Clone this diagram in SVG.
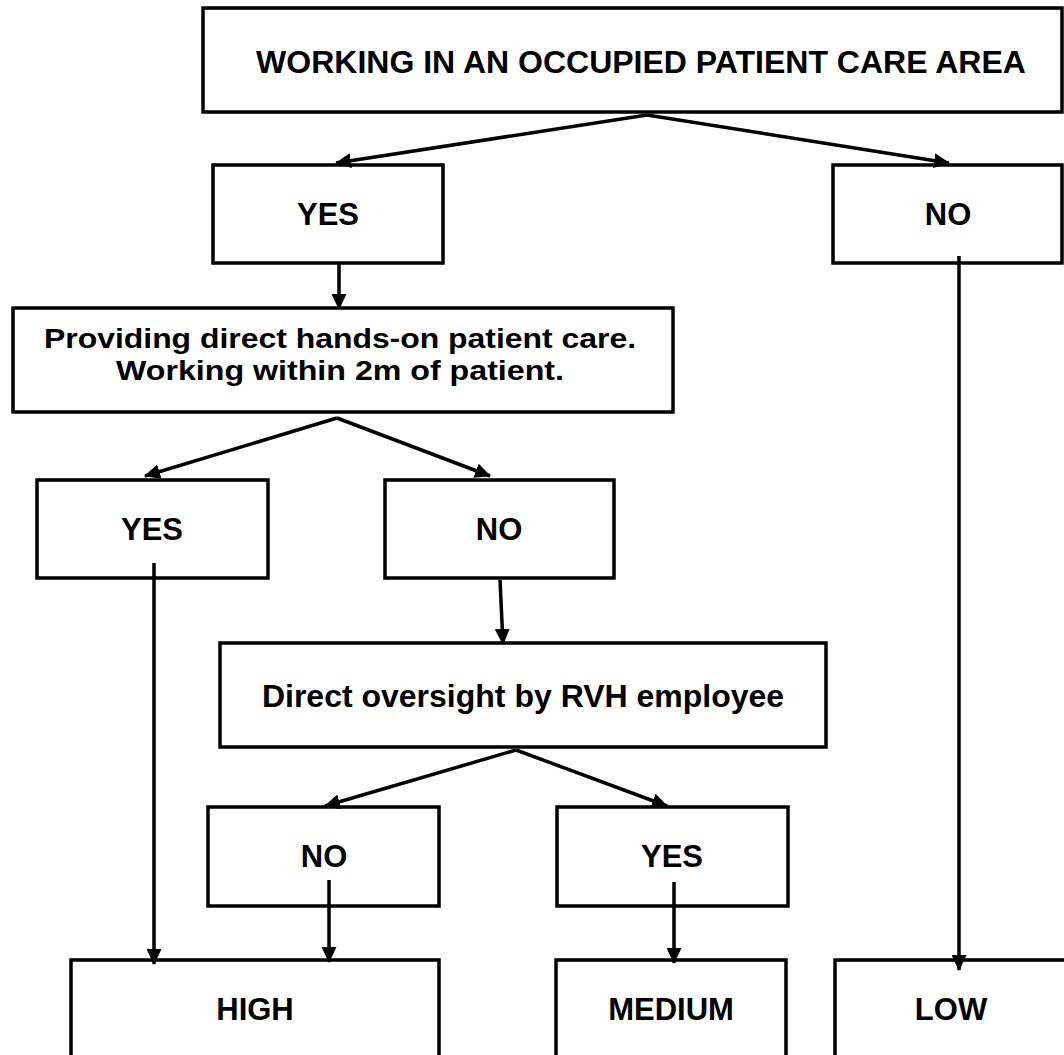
<svg xmlns="http://www.w3.org/2000/svg" width="1064" height="1055" viewBox="0 0 1064 1055">
<style>
.box{fill:#fff;stroke:#000;stroke-width:3.5}
.t{font-family:"Liberation Sans",Arial,Helvetica,sans-serif;font-weight:bold;fill:#000;text-anchor:middle;font-size:31px}
.big{font-size:32px}
.mid{font-size:28px}
.conn line{stroke:#000;stroke-width:3.5;marker-end:url(#ah)}
</style>
<defs>
<marker id="ah" markerUnits="userSpaceOnUse" markerWidth="16" markerHeight="15" refX="15" refY="7.5" orient="auto" viewBox="0 0 16 15"><path d="M0,0 L16,7.5 L0,15 z" fill="#000"/></marker>
</defs>
<rect width="1064" height="1055" fill="#fff"/>
<g id="n-top"><rect class="box" x="203" y="8" width="859" height="104"/><text class="t big" x="641" y="73">WORKING IN AN OCCUPIED PATIENT CARE AREA</text></g>
<g id="n-yes1"><rect class="box" x="213" y="165" width="230" height="98"/><text class="t" x="328" y="225">YES</text></g>
<g id="n-no1"><rect class="box" x="833" y="165" width="229" height="98"/><text class="t" x="948" y="225">NO</text></g>
<g id="n-provide"><rect class="box" x="13" y="308" width="660" height="104"/><text class="t mid" x="340" y="348" textLength="592" lengthAdjust="spacingAndGlyphs">Providing direct hands-on patient care.</text><text class="t mid" x="340" y="380" textLength="448" lengthAdjust="spacingAndGlyphs">Working within 2m of patient.</text></g>
<g id="n-yes2"><rect class="box" x="37" y="480" width="231" height="98"/><text class="t" x="152" y="540">YES</text></g>
<g id="n-no2"><rect class="box" x="385" y="480" width="229" height="98"/><text class="t" x="499" y="540">NO</text></g>
<g id="n-oversight"><rect class="box" x="220" y="643" width="606" height="104"/><text class="t big" x="523" y="707">Direct oversight by RVH employee</text></g>
<g id="n-no3"><rect class="box" x="208" y="807" width="231" height="99"/><text class="t" x="324" y="867">NO</text></g>
<g id="n-yes3"><rect class="box" x="557" y="807" width="231" height="99"/><text class="t" x="672" y="867">YES</text></g>
<g id="n-high"><rect class="box" x="71" y="960" width="368" height="120"/><text class="t" x="255" y="1020">HIGH</text></g>
<g id="n-medium"><rect class="box" x="556" y="960" width="230" height="120"/><text class="t" x="671" y="1020">MEDIUM</text></g>
<g id="n-low"><rect class="box" x="835" y="960" width="240" height="120"/><text class="t" x="951" y="1020">LOW</text></g>
<g id="connectors" class="conn">
<line x1="647" y1="115" x2="336" y2="163"/>
<line x1="647" y1="115" x2="949" y2="163"/>
<line x1="339" y1="263" x2="339" y2="309"/>
<line x1="337" y1="418" x2="145" y2="476"/>
<line x1="337" y1="418" x2="490" y2="476"/>
<line x1="500" y1="580" x2="503" y2="644"/>
<line x1="516" y1="750" x2="325" y2="806"/>
<line x1="516" y1="750" x2="667" y2="806"/>
<line x1="154" y1="563" x2="154" y2="964"/>
<line x1="329" y1="880" x2="329" y2="962"/>
<line x1="674" y1="882" x2="674" y2="963"/>
<line x1="959" y1="256" x2="959" y2="970"/>
</g>
</svg>
